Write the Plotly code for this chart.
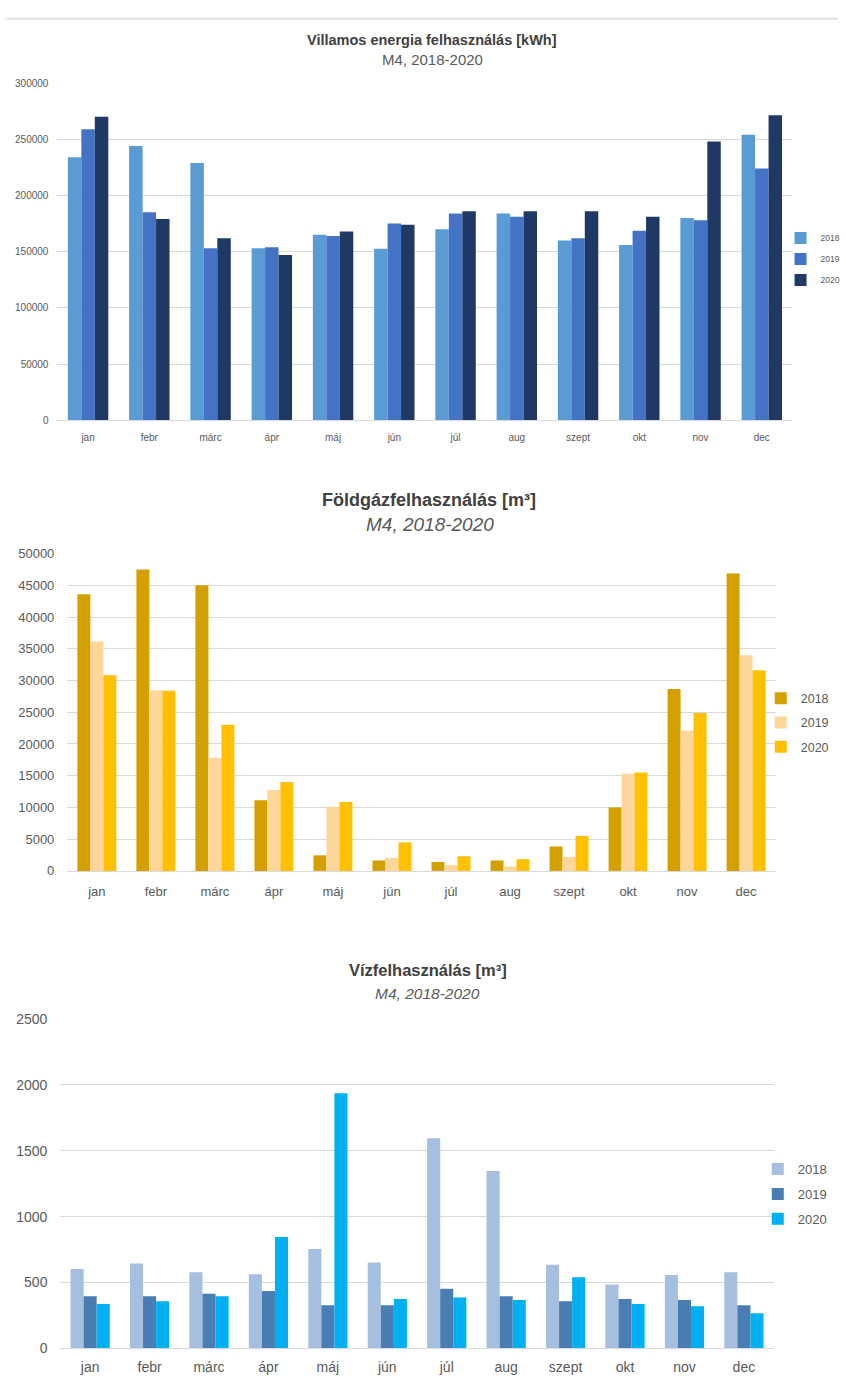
import plotly.graph_objects as go

months = ["jan", "febr", "márc", "ápr", "máj", "jún", "júl", "aug", "szept", "okt", "nov", "dec"]
years = ["2018", "2019", "2020"]

# Villamos energia felhasználás [kWh]
elec_2018 = [234000, 244000, 229000, 153000, 165000, 152500, 170000, 184000, 160000, 156000, 180000, 254000]
elec_2019 = [259000, 185000, 153000, 154000, 164000, 175000, 184000, 181000, 162000, 168500, 178000, 224000]
elec_2020 = [270000, 179000, 162000, 147000, 168000, 174000, 186000, 186000, 186000, 181000, 248000, 271500]

# Földgázfelhasználás [m3]
gas_2018 = [43600, 47500, 45000, 11150, 2450, 1650, 1400, 1650, 3850, 10000, 28650, 46850]
gas_2019 = [36150, 28450, 17850, 12750, 10100, 2050, 900, 700, 2200, 15300, 22100, 34000]
gas_2020 = [30850, 28400, 23050, 14000, 10850, 4500, 2300, 1850, 5500, 15500, 24900, 31600]

# Vízfelhasználás [m3]
water_2018 = [602, 645, 577, 562, 755, 652, 1595, 1347, 635, 485, 557, 577]
water_2019 = [395, 395, 415, 435, 327, 327, 452, 395, 357, 375, 367, 327]
water_2020 = [337, 357, 395, 845, 1937, 375, 385, 367, 540, 337, 320, 267]

elec_colors = ["#5B9BD5", "#4472C4", "#1F3864"]
gas_colors = ["#D4A000", "#FDD69C", "#FFC000"]
water_colors = ["#A6BFDF", "#4A7DB3", "#00B0F0"]

W, H = 846, 1383
def py(px):
    return 1 - px / H
def pxx(px):
    return px / W

FONT = "Liberation Sans"
GRID = "#D9D9D9"

fig = go.Figure()

series = [
    ([elec_2018, elec_2019, elec_2020], elec_colors, "x", "y", "legend"),
    ([gas_2018, gas_2019, gas_2020], gas_colors, "x2", "y2", "legend2"),
    ([water_2018, water_2019, water_2020], water_colors, "x3", "y3", "legend3"),
]
for k, (vals, cols, xa, ya, leg) in enumerate(series):
    for i, yr in enumerate(years):
        fig.add_trace(go.Bar(
            x=months, y=vals[i], name=yr, marker=dict(color=cols[i], line=dict(width=0)),
            xaxis=xa, yaxis=ya, legend=leg, legendgroup=f"g{k}{i}",
        ))

def xax(dom, fs, standoff):
    return dict(domain=dom, anchor=None, showgrid=False, showline=True, linecolor=GRID,
                linewidth=1, ticks="", tickfont=dict(family=FONT, size=fs, color="#595959"),
                ticklabelstandoff=standoff, fixedrange=True)

def yax(dom, rng, dt, fs, standoff):
    return dict(domain=dom, range=rng, dtick=dt, tickformat="d", showgrid=True,
                gridcolor=GRID, gridwidth=1, zeroline=False, showline=False, ticks="",
                tickfont=dict(family=FONT, size=fs, color="#595959"),
                ticklabelstandoff=standoff, fixedrange=True)

x1 = xax([pxx(58), pxx(800)], 10, 8); x1["anchor"] = "y"
x2 = xax([pxx(68), pxx(783)], 13, 8); x2["anchor"] = "y2"
x3 = xax([pxx(61), pxx(781)], 14, 6); x3["anchor"] = "y3"
y1 = yax([py(417), py(76)], [0, 300000], 50000, 10, 8); y1["anchor"] = "x"
y2 = yax([py(873), py(552)], [0, 50000], 5000, 13, 12); y2["anchor"] = "x2"
y3 = yax([py(1356), py(1023)], [0, 2500], 500, 14, 12); y3["anchor"] = "x3"

ann = []
def add_text(text, x, y, size, bold=False, italic=False, color="#404040"):
    t = text
    if bold:
        t = f"<b>{t}</b>"
    if italic:
        t = f"<i>{t}</i>"
    ann.append(dict(text=t, x=pxx(x), y=py(y), xref="paper", yref="paper",
                    xanchor="center", yanchor="middle", showarrow=False,
                    font=dict(family=FONT, size=size, color=color)))

add_text("Villamos energia felhasználás [kWh]", 436, 32, 14.5, bold=True)
add_text("M4, 2018-2020", 437, 52, 15, color="#595959")
add_text("Földgázfelhasználás [m³]", 433, 498, 18, bold=True)
add_text("M4, 2018-2020", 434, 523, 19, italic=True, color="#595959")
add_text("Vízfelhasználás [m³]", 432, 973, 16.5, bold=True)
add_text("M4, 2018-2020", 432, 997, 15.5, italic=True, color="#595959")

def legend(xpx, ycpx, fs, gap):
    return dict(x=pxx(xpx), y=py(ycpx), xanchor="left", yanchor="middle",
                font=dict(family=FONT, size=fs, color="#595959"),
                bgcolor="rgba(0,0,0,0)", tracegroupgap=gap, traceorder="grouped",
                itemclick=False, itemdoubleclick=False)

fig.update_layout(
    width=W, height=H, margin=dict(l=0, r=0, t=0, b=0),
    paper_bgcolor="white", plot_bgcolor="white",
    barmode="group", bargap=0.34, bargroupgap=0,
    xaxis=x1, yaxis=y1, xaxis2=x2, yaxis2=y2, xaxis3=x3, yaxis3=y3,
    legend=legend(788, 254, 8.5, 2),
    legend2=legend(768, 723, 12.5, 5),
    legend3=legend(765, 1200, 13, 5),
    annotations=ann,
    shapes=[dict(type="line", xref="paper", yref="paper", x0=pxx(5), x1=1, y0=py(11), y1=py(11),
                 line=dict(color="#E3E3E3", width=2))],
    showlegend=True,
)

fig.write_html("out.html", config={"displayModeBar": False},
               post_script="document.body.style.margin='0';document.body.style.overflow='hidden';")
